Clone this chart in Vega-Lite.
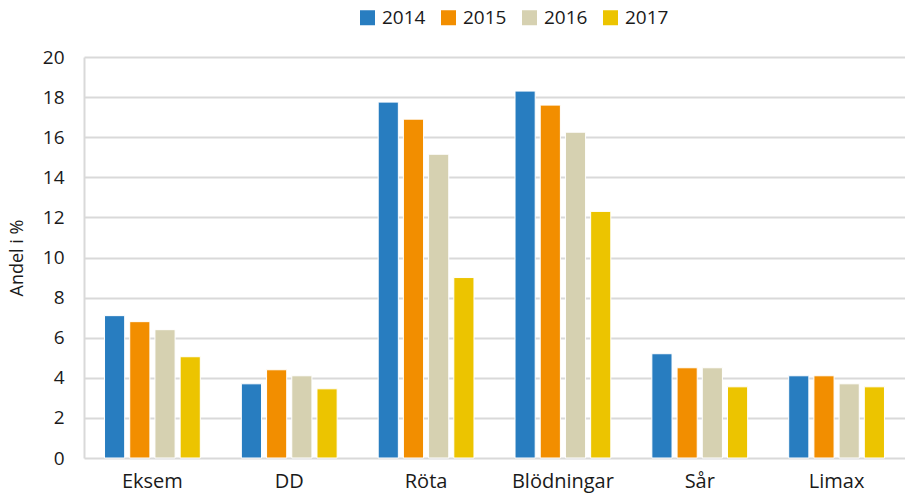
{
  "$schema": "https://vega.github.io/schema/vega-lite/v6.json",
  "autosize": {"type": "none"},
  "width": 821,
  "height": 401,
  "padding": {"left": 84, "top": 57, "right": 0, "bottom": 38},
  "background": "white",
  "config": {
    "font": "Open Sans",
    "view": {"stroke": null},
    "axis": {"labelFont": "Open Sans", "titleFont": "Open Sans", "labelColor": "#1a1a1a", "titleColor": "#1a1a1a"},
    "legend": {"labelFont": "Open Sans"}
  },
  "data": {
    "values": [
      {"kategori": "Eksem", "ar": "2014", "andel": 7.1},
      {"kategori": "Eksem", "ar": "2015", "andel": 6.8},
      {"kategori": "Eksem", "ar": "2016", "andel": 6.4},
      {"kategori": "Eksem", "ar": "2017", "andel": 5.05},
      {"kategori": "DD", "ar": "2014", "andel": 3.7},
      {"kategori": "DD", "ar": "2015", "andel": 4.4},
      {"kategori": "DD", "ar": "2016", "andel": 4.1},
      {"kategori": "DD", "ar": "2017", "andel": 3.45},
      {"kategori": "Röta", "ar": "2014", "andel": 17.75},
      {"kategori": "Röta", "ar": "2015", "andel": 16.9},
      {"kategori": "Röta", "ar": "2016", "andel": 15.15},
      {"kategori": "Röta", "ar": "2017", "andel": 9.0},
      {"kategori": "Blödningar", "ar": "2014", "andel": 18.3},
      {"kategori": "Blödningar", "ar": "2015", "andel": 17.6},
      {"kategori": "Blödningar", "ar": "2016", "andel": 16.25},
      {"kategori": "Blödningar", "ar": "2017", "andel": 12.3},
      {"kategori": "Sår", "ar": "2014", "andel": 5.2},
      {"kategori": "Sår", "ar": "2015", "andel": 4.5},
      {"kategori": "Sår", "ar": "2016", "andel": 4.5},
      {"kategori": "Sår", "ar": "2017", "andel": 3.55},
      {"kategori": "Limax", "ar": "2014", "andel": 4.1},
      {"kategori": "Limax", "ar": "2015", "andel": 4.1},
      {"kategori": "Limax", "ar": "2016", "andel": 3.7},
      {"kategori": "Limax", "ar": "2017", "andel": 3.55}
    ]
  },
  "mark": {"type": "bar", "stroke": "white", "strokeWidth": 1},
  "encoding": {
    "x": {
      "field": "kategori",
      "type": "nominal",
      "sort": ["Eksem", "DD", "Röta", "Blödningar", "Sår", "Limax"],
      "scale": {"paddingInner": 0.3, "paddingOuter": 0.15},
      "axis": {
        "title": null,
        "labelAngle": 0,
        "labelFontSize": 20,
        "labelPadding": 13,
        "ticks": false,
        "domain": false,
        "grid": false
      }
    },
    "xOffset": {
      "field": "ar",
      "type": "nominal",
      "scale": {"paddingInner": 0.2, "paddingOuter": 0}
    },
    "y": {
      "field": "andel",
      "type": "quantitative",
      "scale": {"domain": [0, 20], "nice": false},
      "axis": {
        "title": "Andel i %",
        "titleFontSize": 18,
        "titleFontWeight": "normal",
        "titlePadding": 16,
        "labelFontSize": 19,
        "labelPadding": 20,
        "labelOverlap": false,
        "values": [0, 2, 4, 6, 8, 10, 12, 14, 16, 18, 20],
        "ticks": false,
        "domain": true,
        "domainColor": "#d9d9d9",
        "domainWidth": 2,
        "grid": true,
        "gridColor": "#d9d9d9",
        "gridWidth": 2,
        "gridOpacity": 1
      }
    },
    "color": {
      "field": "ar",
      "type": "nominal",
      "scale": {
        "domain": ["2014", "2015", "2016", "2017"],
        "range": ["#287dc0", "#f28e00", "#d6d1b1", "#ecc400"]
      },
      "legend": {
        "title": null,
        "orient": "none",
        "legendX": 274,
        "legendY": -49,
        "direction": "horizontal",
        "symbolType": "square",
        "symbolSize": 225,
        "symbolStrokeWidth": 0,
        "labelFontSize": 19,
        "labelColor": "#1a1a1a",
        "labelOffset": 5,
        "columnPadding": 13
      }
    }
  }
}
